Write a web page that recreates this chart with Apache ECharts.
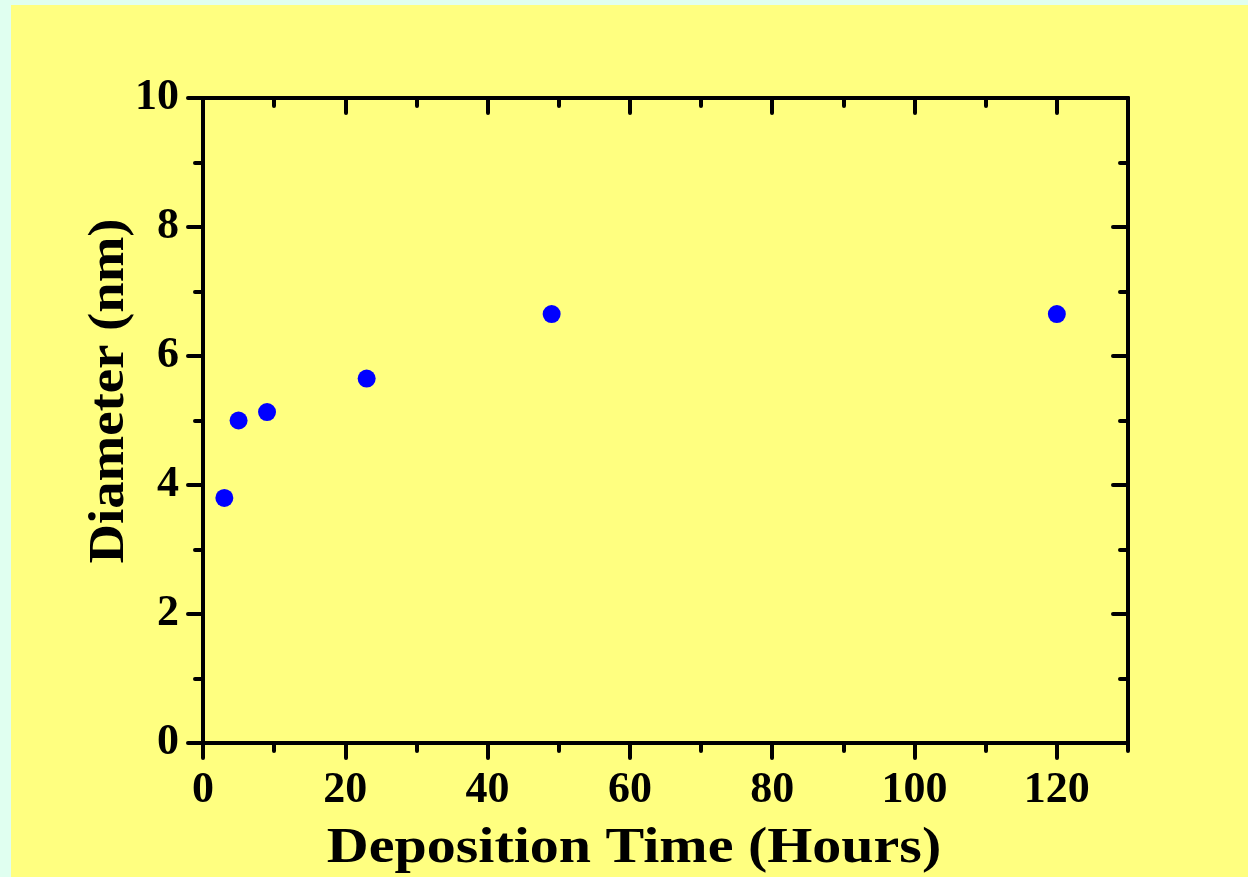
<!DOCTYPE html>
<html>
<head>
<meta charset="utf-8">
<script src="https://cdn.jsdelivr.net/npm/echarts@6/dist/echarts.min.js"></script>
<style>
html,body{margin:0;padding:0;background:#E0FFF0;}
#chart{width:1248px;height:877px;}
</style>
</head>
<body>
<div id="chart"></div>
<script>
// Data
var depositionHours = [3, 5, 9, 23, 49, 120];
var diameterNm = [3.8, 5.0, 5.13, 5.65, 6.65, 6.65];
var xTickLabels = [0, 20, 40, 60, 80, 100, 120];
var yTickLabels = [0, 2, 4, 6, 8, 10];
var xAxisTitle = 'Deposition Time (Hours)';
var yAxisTitle = 'Diameter (nm)';

var points = depositionHours.map(function (h, i) { return [h, diameterNm[i]]; });

var FONT = '"Liberation Serif", "Times New Roman", serif';
var lineW = 4;
var axisLineStyle = { color: '#000', width: lineW, cap: 'round' };
var tickStyle = { color: '#000', width: lineW, cap: 'round' };
var labelStyle = { fontFamily: FONT, fontWeight: 'bold', fontSize: 44, color: '#000' };

function fmt(list) {
  return function (v) { return list.indexOf(v) >= 0 ? String(v) : ''; };
}

function xAx(opts) {
  var o = {
    type: 'value', min: 0, max: 130, splitLine: { show: false },
    axisLine: { show: false, onZero: false, lineStyle: axisLineStyle },
    axisLabel: { show: false }
  };
  return Object.assign(o, opts);
}
function yAx(opts) {
  var o = {
    type: 'value', min: 0, max: 10, splitLine: { show: false },
    axisLine: { show: false, onZero: false, lineStyle: axisLineStyle },
    axisLabel: { show: false }
  };
  return Object.assign(o, opts);
}
var lineOn = { show: true, onZero: false, lineStyle: axisLineStyle };
var lineOff = { show: false, onZero: false };

var chart = echarts.init(document.getElementById('chart'), null, { renderer: 'canvas' });
chart.setOption({
  backgroundColor: '#E0FFF0',
  animation: false,
  grid: { left: 203, right: 120, top: 98, bottom: 134, containLabel: false },
  graphic: [
    { type: 'rect', z: -100, shape: { x: 11, y: 5, width: 1248, height: 877 }, style: { fill: '#FFFF80' } },
    { type: 'text', x: 634, y: 849, scaleX: 1.16, z: 10,
      style: { text: xAxisTitle, fontFamily: FONT, fontWeight: 'bold', fontSize: 50, fill: '#000', align: 'center', verticalAlign: 'middle' } },
    { type: 'text', x: 110, y: 391, rotation: Math.PI / 2, scaleX: 1.095, z: 10,
      style: { text: yAxisTitle, fontFamily: FONT, fontWeight: 'bold', fontSize: 50, fill: '#000', align: 'center', verticalAlign: 'middle' } }
  ],
  xAxis: [
    xAx({ position: 'bottom', interval: 10, axisLine: lineOn,
          axisTick: { show: true, inside: false, length: 8, lineStyle: tickStyle } }),
    xAx({ position: 'bottom', interval: 20, axisLine: lineOff,
          axisTick: { show: true, inside: false, length: 15, lineStyle: tickStyle },
          axisLabel: Object.assign({ show: true, margin: 26, formatter: fmt(xTickLabels), showMaxLabel: false }, labelStyle) }),
    xAx({ position: 'top', interval: 10, axisLine: lineOn,
          axisTick: { show: true, inside: true, length: 8, lineStyle: tickStyle } }),
    xAx({ position: 'top', interval: 20, axisLine: lineOff,
          axisTick: { show: true, inside: true, length: 15, lineStyle: tickStyle } })
  ],
  yAxis: [
    yAx({ position: 'left', interval: 1, axisLine: lineOn,
          axisTick: { show: true, inside: false, length: 8, lineStyle: tickStyle } }),
    yAx({ position: 'left', interval: 2, axisLine: lineOff,
          axisTick: { show: true, inside: false, length: 15, lineStyle: tickStyle },
          axisLabel: Object.assign({ show: true, margin: 24, formatter: fmt(yTickLabels) }, labelStyle) }),
    yAx({ position: 'right', interval: 1, axisLine: lineOn,
          axisTick: { show: true, inside: true, length: 8, lineStyle: tickStyle } }),
    yAx({ position: 'right', interval: 2, axisLine: lineOff,
          axisTick: { show: true, inside: true, length: 15, lineStyle: tickStyle } })
  ],
  series: [{
    type: 'scatter', xAxisIndex: 0, yAxisIndex: 0, data: points,
    symbol: 'circle', symbolSize: 18, itemStyle: { color: '#0000FF', opacity: 1 }, z: 5
  }]
});
</script>
</body>
</html>
